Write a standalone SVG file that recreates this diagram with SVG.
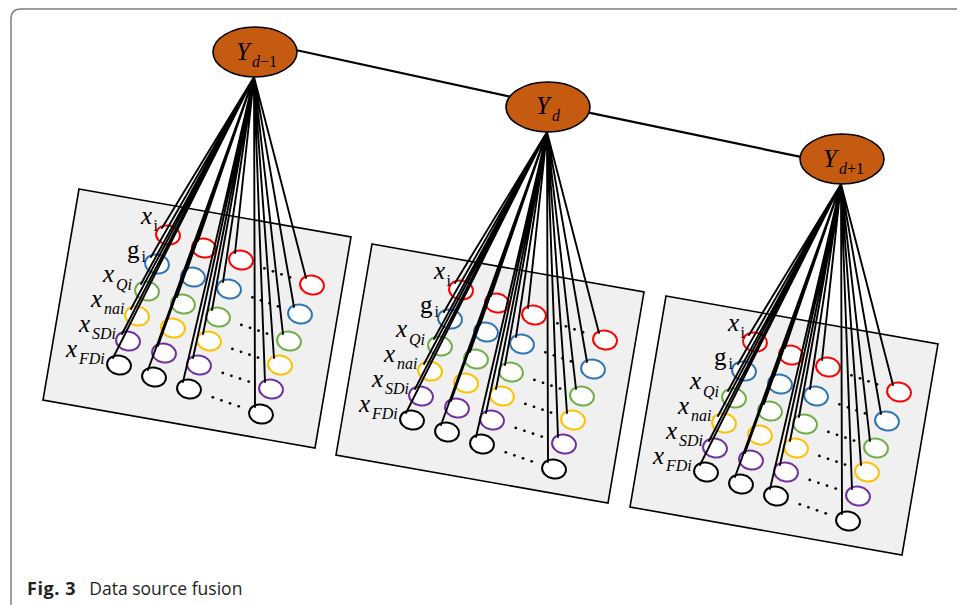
<svg xmlns="http://www.w3.org/2000/svg" xmlns:xlink="http://www.w3.org/1999/xlink" width="957" height="605" viewBox="0 0 957 605">
  <style>
    .frame{fill:none;stroke:#7f7f7f;stroke-width:1.5}
    .sheet{fill:#f0f0f0;stroke:#000;stroke-width:1.6}
    .src{fill:#fff;stroke-width:2}
    .r{stroke:#ff0000}.b{stroke:#2e75b6}.g{stroke:#70ad47}.y{stroke:#ffc000}.p{stroke:#7030a0}.k{stroke:#000}
    .dot{fill:#000}
    .fan{fill:none;stroke:#000;stroke-width:1.9;stroke-linecap:round}
    .link{stroke:#000;stroke-width:2.2}
    .hub{fill:#c55a11;stroke:#000;stroke-width:1.6}
    .lbl{font-family:"Liberation Serif",serif;font-size:25px;font-style:italic;fill:#000}
    .up{font-style:normal}
    .sub{font-size:16px}
    .ylbl{font-family:"Liberation Serif",serif;font-size:25px;font-style:italic;fill:#000}
    .ysub{font-size:16px}
    .cap{font-family:"Open Sans",sans-serif;font-size:17.5px;fill:#231f20}
  </style>
  <defs>
    <!-- one sheet of source variables: 4 visible columns x 6 rows, with dotted gaps -->
    <g id="grid">
      <ellipse class="src r" cx="168" cy="235" rx="12" ry="9.5" transform="rotate(10 168 235)"/>
      <ellipse class="src b" cx="157" cy="264" rx="12" ry="9.5" transform="rotate(10 157 264)"/>
      <ellipse class="src g" cx="147" cy="291" rx="12" ry="9.5" transform="rotate(10 147 291)"/>
      <ellipse class="src y" cx="137" cy="316" rx="12" ry="9.5" transform="rotate(10 137 316)"/>
      <ellipse class="src p" cx="128" cy="341" rx="12" ry="9.5" transform="rotate(10 128 341)"/>
      <ellipse class="src k" cx="119" cy="365" rx="12" ry="9.5" transform="rotate(10 119 365)"/>

      <ellipse class="src r" cx="204" cy="248" rx="12" ry="9.5" transform="rotate(10 204 248)"/>
      <ellipse class="src b" cx="193" cy="277" rx="12" ry="9.5" transform="rotate(10 193 277)"/>
      <ellipse class="src g" cx="183" cy="304" rx="12" ry="9.5" transform="rotate(10 183 304)"/>
      <ellipse class="src y" cx="173" cy="328" rx="12" ry="9.5" transform="rotate(10 173 328)"/>
      <ellipse class="src p" cx="164" cy="353" rx="12" ry="9.5" transform="rotate(10 164 353)"/>
      <ellipse class="src k" cx="154" cy="377" rx="12" ry="9.5" transform="rotate(10 154 377)"/>

      <ellipse class="src r" cx="241" cy="260" rx="12" ry="9.5" transform="rotate(10 241 260)"/>
      <ellipse class="src b" cx="229" cy="289" rx="12" ry="9.5" transform="rotate(10 229 289)"/>
      <ellipse class="src g" cx="218" cy="317" rx="12" ry="9.5" transform="rotate(10 218 317)"/>
      <ellipse class="src y" cx="209" cy="341" rx="12" ry="9.5" transform="rotate(10 209 341)"/>
      <ellipse class="src p" cx="199" cy="365" rx="12" ry="9.5" transform="rotate(10 199 365)"/>
      <ellipse class="src k" cx="189" cy="389" rx="12" ry="9.5" transform="rotate(10 189 389)"/>

      <ellipse class="src r" cx="312" cy="285" rx="12" ry="9.5" transform="rotate(10 312 285)"/>
      <ellipse class="src b" cx="300" cy="314" rx="12" ry="9.5" transform="rotate(10 300 314)"/>
      <ellipse class="src g" cx="289" cy="341" rx="12" ry="9.5" transform="rotate(10 289 341)"/>
      <ellipse class="src y" cx="280" cy="365" rx="12" ry="9.5" transform="rotate(10 280 365)"/>
      <ellipse class="src p" cx="271" cy="389" rx="12" ry="9.5" transform="rotate(10 271 389)"/>
      <ellipse class="src k" cx="261" cy="414" rx="12" ry="9.5" transform="rotate(10 261 414)"/>

      <g class="dot">
        <circle cx="264.4" cy="268.3" r="1.4"/><circle cx="273" cy="271.3" r="1.4"/><circle cx="281.5" cy="274.3" r="1.4"/><circle cx="290" cy="277.3" r="1.4"/>
        <circle cx="252.4" cy="297.3" r="1.4"/><circle cx="261" cy="300.3" r="1.4"/><circle cx="269.5" cy="303.3" r="1.4"/><circle cx="278" cy="306.3" r="1.4"/>
        <circle cx="241.4" cy="324.9" r="1.4"/><circle cx="250" cy="327.8" r="1.4"/><circle cx="258.5" cy="330.7" r="1.4"/><circle cx="267" cy="333.6" r="1.4"/>
        <circle cx="232.4" cy="348.9" r="1.4"/><circle cx="241" cy="351.8" r="1.4"/><circle cx="249.5" cy="354.7" r="1.4"/><circle cx="258" cy="357.6" r="1.4"/>
        <circle cx="222.8" cy="372.9" r="1.4"/><circle cx="231.4" cy="375.8" r="1.4"/><circle cx="240" cy="378.7" r="1.4"/><circle cx="248.7" cy="381.6" r="1.4"/>
        <circle cx="212.8" cy="397.3" r="1.4"/><circle cx="221.4" cy="400.3" r="1.4"/><circle cx="230" cy="403.3" r="1.4"/><circle cx="238.7" cy="406.3" r="1.4"/>
      </g>
    </g>

    <!-- fan of edges from a hub to every variable of its sheet -->
    <path id="fan" class="fan" d="M254 77L162 228M254 77L151 257M254 77L141 284M254 77L131 309M254 77L122 334M254 77L113 358
      M254 77L198 241M254 77L187 270M254 77L177 297M254 77L167 321M254 77L158 346M254 77L148 370
      M254 77L235 253M254 77L223 282M254 77L212 310M254 77L203 334M254 77L193 358M254 77L183 382
      M254 77L306 278M254 77L294 307M254 77L283 334M254 77L274 358M254 77L265 382M254 77L255 407"/>
  </defs>

  <rect width="957" height="605" fill="#fff"/>
  <path class="frame" d="M11 605V19Q11 9 21 9H957"/>

  <!-- sheets of source variables -->
  <g id="sheet-d-1">
    <polygon class="sheet" points="79,189 351,237 315,448 43,400"/>
    <use href="#grid"/>
    <text class="lbl" x="141" y="224">x<tspan class="sub up" x="153.5" y="231">i</tspan></text>
    <text class="lbl" x="127" y="258"><tspan class="up">g</tspan><tspan class="sub up" x="141.5" y="262">i</tspan></text>
    <text class="lbl" x="103" y="282">x<tspan class="sub" x="116" y="290">Qi</tspan></text>
    <text class="lbl" x="91" y="307">x<tspan class="sub" x="104" y="314">nai</tspan></text>
    <text class="lbl" x="79" y="332">x<tspan class="sub" x="92" y="339">SDi</tspan></text>
    <text class="lbl" x="66" y="357">x<tspan class="sub" x="79" y="364">FDi</tspan></text>
  </g>
  <g id="sheet-d" transform="translate(293,55)">
    <polygon class="sheet" points="79,189 351,237 315,448 43,400"/>
    <use href="#grid"/>
    <text class="lbl" x="141" y="224">x<tspan class="sub up" x="153.5" y="231">i</tspan></text>
    <text class="lbl" x="127" y="258"><tspan class="up">g</tspan><tspan class="sub up" x="141.5" y="262">i</tspan></text>
    <text class="lbl" x="103" y="282">x<tspan class="sub" x="116" y="290">Qi</tspan></text>
    <text class="lbl" x="91" y="307">x<tspan class="sub" x="104" y="314">nai</tspan></text>
    <text class="lbl" x="79" y="332">x<tspan class="sub" x="92" y="339">SDi</tspan></text>
    <text class="lbl" x="66" y="357">x<tspan class="sub" x="79" y="364">FDi</tspan></text>
  </g>
  <g id="sheet-d+1" transform="translate(587,107)">
    <polygon class="sheet" points="79,189 351,237 315,448 43,400"/>
    <use href="#grid"/>
    <text class="lbl" x="141" y="224">x<tspan class="sub up" x="153.5" y="231">i</tspan></text>
    <text class="lbl" x="127" y="258"><tspan class="up">g</tspan><tspan class="sub up" x="141.5" y="262">i</tspan></text>
    <text class="lbl" x="103" y="282">x<tspan class="sub" x="116" y="290">Qi</tspan></text>
    <text class="lbl" x="91" y="307">x<tspan class="sub" x="104" y="314">nai</tspan></text>
    <text class="lbl" x="79" y="332">x<tspan class="sub" x="92" y="339">SDi</tspan></text>
    <text class="lbl" x="66" y="357">x<tspan class="sub" x="79" y="364">FDi</tspan></text>
  </g>

  <!-- edges -->
  <g id="connectors">
    <line class="link" x1="290" y1="48.7" x2="520" y2="98.7"/>
    <line class="link" x1="584" y1="111.7" x2="808" y2="158.4"/>
    <use href="#fan"/>
    <use href="#fan" transform="translate(293,55)"/>
    <use href="#fan" transform="translate(587,107)"/>
  </g>

  <!-- hubs -->
  <g id="Y-d-1">
    <ellipse class="hub" cx="255" cy="52" rx="42" ry="25"/>
    <text class="ylbl" x="236" y="60">Y<tspan class="ysub" x="252" y="67">d</tspan><tspan class="ysub up">−1</tspan></text>
  </g>
  <g id="Y-d">
    <ellipse class="hub" cx="548" cy="107" rx="42" ry="25"/>
    <text class="ylbl" x="536" y="114">Y<tspan class="ysub" x="552" y="121">d</tspan></text>
  </g>
  <g id="Y-d+1">
    <ellipse class="hub" cx="842" cy="159" rx="42" ry="25"/>
    <text class="ylbl" x="823" y="167">Y<tspan class="ysub" x="839" y="174">d</tspan><tspan class="ysub up">+1</tspan></text>
  </g>

  <text class="cap" x="27" y="595"><tspan font-weight="bold" font-size="18" letter-spacing="0.6">Fig. 3</tspan><tspan x="89.3">Data source fusion</tspan></text>
</svg>
